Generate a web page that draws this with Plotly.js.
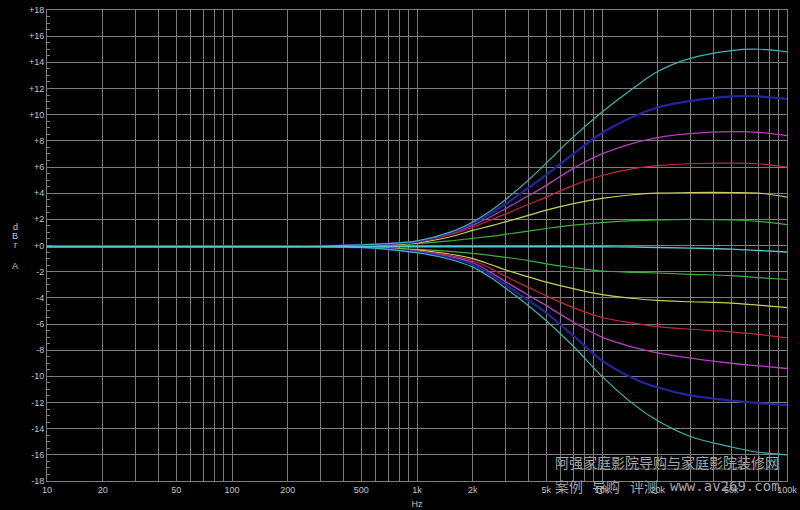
<!DOCTYPE html>
<html>
<head>
<meta charset="utf-8">
<script src="https://cdn.plot.ly/plotly-3.0.1.min.js"></script>
<style>html,body{margin:0;padding:0;background:#000;}#chart{width:800px;height:510px;}</style>
</head>
<body>
<div id="chart"></div>
<script>
// Frequencies (Hz)
const freq = [10, 20, 50, 100, 200, 300, 500, 700, 1000, 1500, 2000, 2500, 3000, 4000, 5000, 7000, 10000, 15000, 20000, 30000, 50000, 70000, 100000];

// Boost curves (dB)
const cyanP    = [-0.1,-0.1,-0.1,-0.1,-0.1,-0.05,0.05,0.15,0.35,1.0,1.8,2.65,3.5,5.0,6.3,8.3,10.2,12.1,13.3,14.3,14.9,15.0,14.8];
const blueP    = [-0.1,-0.1,-0.1,-0.1,-0.1,-0.05,0.05,0.15,0.3,0.95,1.7,2.45,3.15,4.4,5.4,7.0,8.6,9.9,10.55,11.05,11.4,11.4,11.2];
const magentaP = [-0.1,-0.1,-0.1,-0.1,-0.1,-0.05,0.05,0.12,0.28,0.9,1.55,2.2,2.8,3.8,4.6,5.9,7.0,7.85,8.25,8.55,8.7,8.65,8.4];
const redP     = [-0.1,-0.1,-0.1,-0.1,-0.1,-0.05,0.04,0.1,0.25,0.8,1.4,1.95,2.4,3.15,3.7,4.6,5.35,5.9,6.1,6.25,6.3,6.25,6.0];
const yellowP  = [-0.1,-0.1,-0.1,-0.1,-0.1,-0.05,0.03,0.08,0.2,0.65,1.15,1.5,1.8,2.3,2.7,3.2,3.6,3.9,4.0,4.05,4.05,4.0,3.7];
const greenP   = [-0.1,-0.1,-0.1,-0.1,-0.1,-0.05,0.02,0.05,0.15,0.35,0.55,0.7,0.85,1.1,1.3,1.55,1.75,1.9,1.95,2.0,1.95,1.85,1.6];
// Flat curve
const flat     = [-0.1,-0.1,-0.1,-0.1,-0.1,-0.1,-0.1,-0.1,-0.1,-0.1,-0.1,-0.1,-0.1,-0.1,-0.1,-0.1,-0.1,-0.12,-0.15,-0.2,-0.28,-0.38,-0.5];
// Cut curves (dB)
const greenN   = [-0.1,-0.1,-0.1,-0.1,-0.1,-0.1,-0.15,-0.2,-0.3,-0.45,-0.6,-0.75,-0.9,-1.15,-1.4,-1.7,-1.95,-2.05,-2.1,-2.2,-2.3,-2.45,-2.6];
const yellowN  = [-0.1,-0.1,-0.1,-0.1,-0.1,-0.1,-0.15,-0.22,-0.35,-0.65,-1.0,-1.45,-1.85,-2.4,-2.8,-3.3,-3.75,-4.05,-4.2,-4.3,-4.4,-4.55,-4.75];
const redN     = [-0.1,-0.1,-0.1,-0.1,-0.1,-0.1,-0.15,-0.25,-0.4,-0.75,-1.15,-1.75,-2.35,-3.2,-3.85,-4.75,-5.5,-5.95,-6.2,-6.4,-6.6,-6.8,-7.05];
const magentaN = [-0.1,-0.1,-0.1,-0.1,-0.1,-0.1,-0.15,-0.25,-0.45,-0.85,-1.3,-2.05,-2.75,-3.8,-4.6,-5.85,-7.0,-7.8,-8.2,-8.6,-9.0,-9.2,-9.4];
const blueN    = [-0.1,-0.1,-0.1,-0.1,-0.1,-0.1,-0.15,-0.28,-0.5,-0.95,-1.45,-2.25,-3.0,-4.2,-5.15,-6.9,-8.8,-10.2,-10.85,-11.45,-11.85,-12.05,-12.2];
const cyanN    = [-0.1,-0.1,-0.1,-0.1,-0.1,-0.1,-0.15,-0.3,-0.55,-1.05,-1.65,-2.45,-3.25,-4.6,-5.75,-7.7,-10.0,-12.2,-13.4,-14.6,-15.4,-15.8,-16.0];

// Tick labels
const xTickVals = [10,20,30,40,50,60,70,80,90,100,200,300,400,500,600,700,800,900,1000,2000,3000,4000,5000,6000,7000,8000,9000,10000,20000,30000,40000,50000,60000,70000,80000,90000,100000];
const xTickText = ["10","20","","","50","","","","","100","200","","","500","","","","","1k","2k","","","5k","","","","","10k","20k","","","50k","","","","","100k"];
const yTickVals = [18,16,14,12,10,8,6,4,2,0,-2,-4,-6,-8,-10,-12,-14,-16,-18];
const yTickText = ["+18","+16","+14","+12","+10","+8","+6","+4","+2","+0","-2","-4","-6","-8","-10","-12","-14","-16","-18"];

const series = [
  {y: greenN, c: '#3fae3f', w: 1.2},
  {y: yellowN, c: '#cccc5a', w: 1.2},
  {y: redN, c: '#c2283a', w: 1.2},
  {y: magentaN, c: '#b440b8', w: 1.3},
  {y: blueN, c: '#24249c', w: 2.2},
  {y: cyanN, c: '#3fb4b4', w: 1.2},
  {y: greenP, c: '#3fae3f', w: 1.2},
  {y: yellowP, c: '#cccc5a', w: 1.2},
  {y: redP, c: '#c2283a', w: 1.2},
  {y: magentaP, c: '#b440b8', w: 1.3},
  {y: blueP, c: '#24249c', w: 2.2},
  {y: cyanP, c: '#3fb4b4', w: 1.2},
  {y: flat, c: '#5cc4cc', w: 1.4}
];

const traces = series.map(s => ({
  x: freq, y: s.y, type: 'scatter', mode: 'lines',
  line: {color: s.c, width: s.w, shape: 'spline', smoothing: 1.0},
  hoverinfo: 'skip', showlegend: false
}));

const gridC = '#7c7c7c';
const tickFont = {family: 'Liberation Sans, Arial, sans-serif', size: 9, color: '#c4c4c4'};

const wmFont = {family: 'Noto Sans CJK SC', size: 14, color: '#a6a6a6'};
const wmMono = {family: 'DejaVu Sans Mono', size: 14, color: '#a6a6a6'};
function px(x){ return (x-47)/740; }
function py(y){ return (481-y)/471; }

const layout = {
  width: 800, height: 510,
  paper_bgcolor: '#000', plot_bgcolor: '#000',
  margin: {l: 47, r: 13, t: 10, b: 29},
  showlegend: false,
  xaxis: {
    type: 'log', range: [1, 5],
    tickvals: xTickVals, ticktext: xTickText,
    showgrid: true, gridcolor: gridC, gridwidth: 1,
    showline: true, linecolor: gridC, linewidth: 1, mirror: true,
    ticks: '', tickfont: tickFont, zeroline: false,
    title: {text: 'Hz', font: tickFont, standoff: 6}
  },
  yaxis: {
    range: [-18, 18],
    tickvals: yTickVals, ticktext: yTickText,
    showgrid: true, gridcolor: gridC, gridwidth: 1,
    showline: true, linecolor: gridC, linewidth: 1, mirror: true,
    ticks: 'inside', ticklen: 5, tickcolor: gridC,
    minor: {dtick: 0.5, ticks: 'inside', ticklen: 3, tickcolor: gridC, showgrid: false},
    tickfont: tickFont, zeroline: false
  },
  annotations: [
    {text: 'd', x: px(15), y: py(227)},
    {text: 'B', x: px(15), y: py(236)},
    {text: 'r', x: px(15), y: py(245)},
    {text: 'A', x: px(15), y: py(266)}
  ].map(a => Object.assign({xref: 'paper', yref: 'paper', showarrow: false, xanchor: 'center', yanchor: 'middle', font: tickFont}, a)).concat([
    {text: '阿强家庭影院导购与家庭影院装修网', x: px(553), y: py(462), font: wmFont},
    {text: '案例', x: px(553), y: py(486), font: wmFont},
    {text: '导购', x: px(590), y: py(486), font: wmFont},
    {text: '评测', x: px(628), y: py(486), font: wmFont},
    {text: 'www.av269.com', x: px(668), y: py(486), font: wmMono}
  ].map(a => Object.assign({xref: 'paper', yref: 'paper', showarrow: false, xanchor: 'left', yanchor: 'middle'}, a))),
  shapes: [
    {type: 'line', xref: 'paper', yref: 'paper', x0: px(580), x1: px(780), y0: py(469), y1: py(469), line: {color: '#6a6a6a', width: 1}}
  ]
};

Plotly.newPlot('chart', traces, layout, {staticPlot: true, displayModeBar: false});
</script>
</body>
</html>
